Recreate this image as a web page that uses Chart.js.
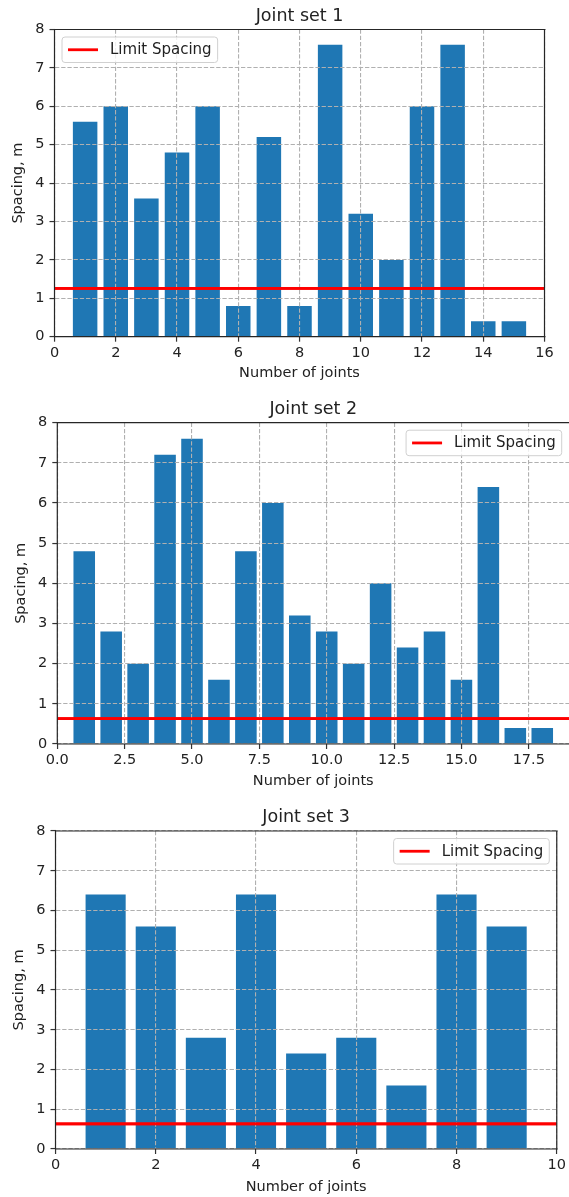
<!DOCTYPE html>
<html>
<head>
<meta charset="utf-8">
<title>Joint sets</title>
<script src="https://cdn.jsdelivr.net/npm/chart.js@4.4.0/dist/chart.umd.min.js"></script>
<style>
  html, body { margin: 0; padding: 0; background: #fff; overflow: hidden; width: 569px; height: 1197px; }
  canvas.panel { position: absolute; left: 0; }
</style>
</head>
<body>
<canvas id="set1" class="panel"></canvas>
<canvas id="set2" class="panel"></canvas>
<canvas id="set3" class="panel"></canvas>
<script>
/* ---- data ---- */
const joints1 = [1, 2, 3, 4, 5, 6, 7, 8, 9, 10, 11, 12, 13, 14, 15];
const spacing1 = [5.6, 6, 3.6, 4.8, 6, 0.8, 5.2, 0.8, 7.6, 3.2, 2, 6, 7.6, 0.4, 0.4];
const limit1 = 1.26;

const joints2 = [1, 2, 3, 4, 5, 6, 7, 8, 9, 10, 11, 12, 13, 14, 15, 16, 17, 18];
const spacing2 = [4.8, 2.8, 2, 7.2, 7.6, 1.6, 4.8, 6, 3.2, 2.8, 2, 4, 2.4, 2.8, 1.6, 6.4, 0.4, 0.4];
const limit2 = 0.63;

const joints3 = [1, 2, 3, 4, 5, 6, 7, 8, 9];
const spacing3 = [6.4, 5.6, 2.8, 6.4, 2.4, 2.8, 1.6, 6.4, 5.6];
const limit3 = 0.63;

const xTicks1 = [0, 2, 4, 6, 8, 10, 12, 14, 16];
const xTicks2 = [0, 2.5, 5, 7.5, 10, 12.5, 15, 17.5];
const xTicks3 = [0, 2, 4, 6, 8, 10];
const yTicks = [0, 1, 2, 3, 4, 5, 6, 7, 8];

/* ---- page layout (px, page coordinates) ---- */
const FONT = '"DejaVu Sans", sans-serif';
const panels = [
  { id: "set1", title: "Joint set 1", joints: joints1, values: spacing1, limit: limit1,
    xTicks: xTicks1, xMax: 16, decimals: 0, legend: "left", rightSpine: true,
    top: 0, height: 395, width: 569, left: 54.5, right: 544.5, areaTop: 29.5, areaBottom: 336.7,
    xTitleY: 373, yTitleX: 18 },
  { id: "set2", title: "Joint set 2", joints: joints2, values: spacing2, limit: limit2,
    xTicks: xTicks2, xMax: 19, decimals: 1, legend: "right", rightSpine: false,
    top: 395, height: 405, width: 571, left: 57.3, right: 569.2, areaTop: 422.7, areaBottom: 744,
    xTitleY: 781, yTitleX: 20.8 },
  { id: "set3", title: "Joint set 3", joints: joints3, values: spacing3, limit: limit3,
    xTicks: xTicks3, xMax: 10, decimals: 0, legend: "right", rightSpine: true,
    top: 800, height: 397, width: 569, left: 55.5, right: 560.3, areaTop: 831, areaBottom: 1149,
    xTitleY: 1187, yTitleX: 19 },
];

// matplotlib-like extras: limit line above grid, spines, title, legend box
const mplDecor = {
  id: "mplDecor",
  afterDraw(chart, args, opts) {
    const { ctx, chartArea: a } = chart;
    chart.getDatasetMeta(1).controller.draw();

    ctx.save();
    ctx.strokeStyle = "#262626";
    ctx.lineWidth = 1.2;
    ctx.beginPath();
    ctx.moveTo(a.left, a.bottom); ctx.lineTo(a.left, a.top); ctx.lineTo(a.right + 1, a.top);
    ctx.moveTo(a.left, a.bottom); ctx.lineTo(a.right + 1, a.bottom);
    if (opts.rightSpine) { ctx.moveTo(a.right, a.top); ctx.lineTo(a.right, a.bottom); }
    ctx.stroke();

    ctx.fillStyle = "#222";
    ctx.font = "17.5px " + FONT;
    ctx.textAlign = "center";
    ctx.textBaseline = "alphabetic";
    ctx.fillText(opts.title, (a.left + a.right) / 2, a.top - 8.7);

    const ds = chart.data.datasets[1];
    const fs = 15;
    ctx.font = fs + "px " + FONT;
    const tw = ctx.measureText(ds.label).width;
    const w = 0.4 * fs + 2 * fs + 0.8 * fs + tw + 0.4 * fs;
    const h = 25.5;
    const gap = 0.5 * fs;
    const x = opts.side === "left" ? a.left + gap : a.right - gap - w;
    const y = a.top + gap;
    ctx.beginPath();
    ctx.roundRect(x, y, w, h, 3);
    ctx.fillStyle = "rgba(255,255,255,0.8)";
    ctx.fill();
    ctx.strokeStyle = "#d0d0d0";
    ctx.lineWidth = 1;
    ctx.stroke();
    ctx.beginPath();
    ctx.moveTo(x + 0.4 * fs, y + h / 2);
    ctx.lineTo(x + 2.4 * fs, y + h / 2);
    ctx.strokeStyle = ds.borderColor;
    ctx.lineWidth = ds.borderWidth;
    ctx.stroke();
    ctx.fillStyle = "#222";
    ctx.textAlign = "left";
    ctx.textBaseline = "middle";
    ctx.fillText(ds.label, x + 3.2 * fs, y + h / 2 + 0.5);
    ctx.restore();
  },
};

function gridOpts() {
  return {
    z: 1,
    color: "#b0b0b0",
    lineWidth: 1.1,
    tickLength: 5,
    tickColor: "#333",
    tickWidth: 1.2,
    tickBorderDash: [],
    offset: false,
  };
}

function makePanel(p) {
  const canvas = document.getElementById(p.id);
  canvas.width = p.width;
  canvas.height = p.height;
  canvas.style.top = p.top + "px";

  const tickFont = { family: FONT, size: 14.5 };
  const lh = 14.5 * 1.2;

  new Chart(canvas, {
    type: "bar",
    data: {
      datasets: [
        {
          label: "Spacing",
          data: p.values.map((v, i) => ({ x: p.joints[i], y: v })),
          backgroundColor: "#1f77b4",
          borderWidth: 0,
          barPercentage: 0.8,
          categoryPercentage: 1,
          order: 1,
        },
        {
          type: "line",
          label: "Limit Spacing",
          data: [{ x: 0, y: p.limit }, { x: p.xMax, y: p.limit }],
          borderColor: "#ff0000",
          borderWidth: 2.8,
          pointRadius: 0,
          order: 0,
        },
      ],
    },
    options: {
      responsive: false,
      animation: false,
      layout: {
        padding: { left: 0, top: p.areaTop - p.top, right: p.width - p.right, bottom: 0 },
      },
      plugins: {
        legend: { display: false },
        tooltip: { enabled: false },
        mplDecor: { title: p.title, side: p.legend, rightSpine: p.rightSpine },
      },
      scales: {
        x: {
          type: "linear",
          min: 0,
          max: p.xMax,
          offset: false,
          grid: gridOpts(),
          border: { display: false, dash: [4.3, 1.9] },
          ticks: {
            font: tickFont,
            color: "#222",
            padding: 3,
            maxRotation: 0,
            autoSkip: false,
            callback: (v) => (p.decimals ? Number(v).toFixed(p.decimals) : String(v)),
          },
          afterBuildTicks: (s) => { s.ticks = p.xTicks.map((v) => ({ value: v })); },
          afterFit: (s) => { s.height = p.top + p.height - p.areaBottom; },
          title: {
            display: true,
            text: "Number of joints",
            font: tickFont,
            color: "#222",
            padding: { top: 0, bottom: p.top + p.height - p.xTitleY - lh / 2 },
          },
        },
        y: {
          min: 0,
          max: 8,
          grid: gridOpts(),
          border: { display: false, dash: [4.3, 1.9] },
          ticks: { font: tickFont, color: "#222", padding: 5 },
          afterBuildTicks: (s) => { s.ticks = yTicks.map((v) => ({ value: v })); },
          afterFit: (s) => { s.width = p.left; },
          title: {
            display: true,
            text: "Spacing, m",
            font: tickFont,
            color: "#222",
            padding: { top: p.yTitleX - lh / 2, bottom: 0 },
          },
        },
      },
    },
    plugins: [mplDecor],
  });
}

panels.forEach(makePanel);
</script>
</body>
</html>
